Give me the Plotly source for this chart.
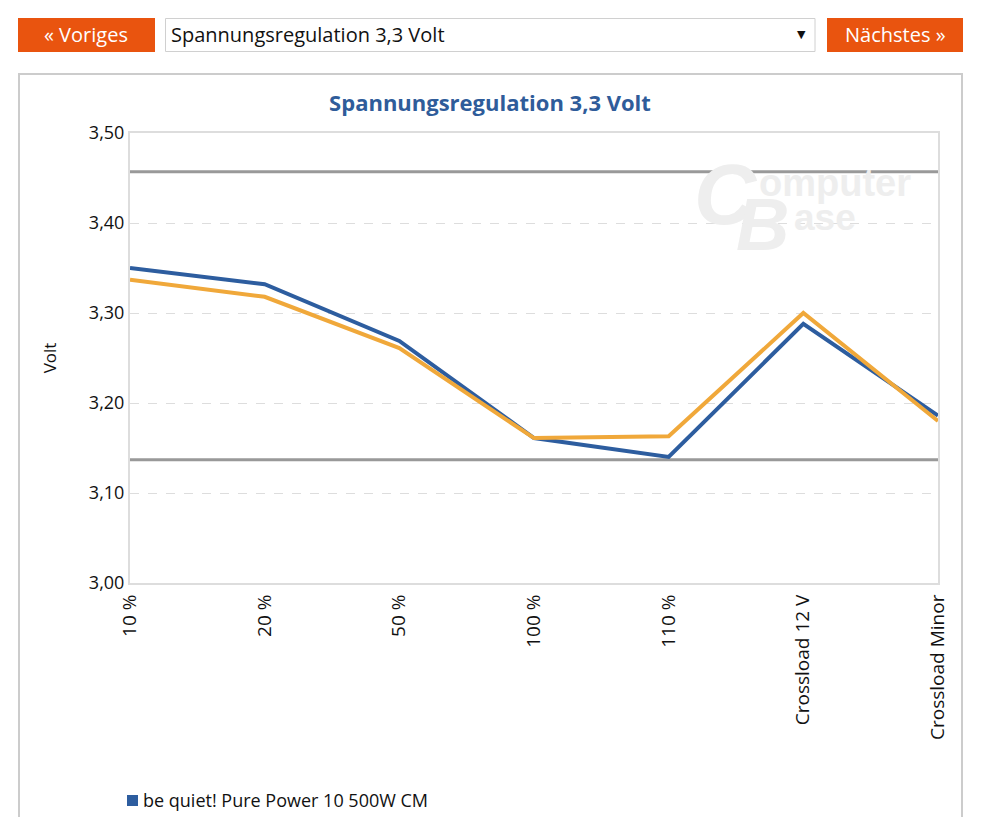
import plotly.graph_objects as go

categories = ["10 %", "20 %", "50 %", "100 %", "110 %", "Crossload 12 V", "Crossload Minor"]
series_blue_name = "be quiet! Pure Power 10 500W CM"
series_blue = [3.350, 3.332, 3.269, 3.161, 3.140, 3.288, 3.186]
series_orange_name = "Vergleichsnetzteil"
series_orange = [3.337, 3.318, 3.261, 3.161, 3.163, 3.300, 3.180]
limit_upper = 3.457
limit_lower = 3.137
y_ticks = [3.00, 3.10, 3.20, 3.30, 3.40, 3.50]

W, H = 991, 817
L, R, T, B = 130, 938, 133, 583

def px(x):
    return (x - L) / (R - L)

def py(y):
    return (B - y) / (B - T)

FONT = "Open Sans"
BLUE = "#2D5D9F"
ORANGE = "#F0A83A"
BTN = "#E9540F"

fig = go.Figure()

# limit lines
fig.add_trace(go.Scatter(x=categories, y=[limit_upper] * len(categories), mode="lines",
                         line=dict(color="#999999", width=3), showlegend=False, hoverinfo="skip"))
fig.add_trace(go.Scatter(x=categories, y=[limit_lower] * len(categories), mode="lines",
                         line=dict(color="#999999", width=3), showlegend=False, hoverinfo="skip"))

fig.add_trace(go.Scatter(x=categories, y=series_blue, mode="lines", name=series_blue_name,
                         line=dict(color=BLUE, width=4), showlegend=False))
fig.add_trace(go.Scatter(x=categories, y=series_orange, mode="lines", name=series_orange_name,
                         line=dict(color=ORANGE, width=4), showlegend=False))

shapes = []
annotations = []

# container box
shapes.append(dict(type="rect", xref="paper", yref="paper", x0=px(19), x1=px(962), y0=py(74), y1=py(840),
                   line=dict(color="#cccccc", width=2), fillcolor="rgba(0,0,0,0)", layer="below"))
# buttons
shapes.append(dict(type="rect", xref="paper", yref="paper", x0=px(18), x1=px(155), y0=py(18), y1=py(52),
                   line=dict(width=0), fillcolor=BTN))
shapes.append(dict(type="rect", xref="paper", yref="paper", x0=px(827), x1=px(963), y0=py(18), y1=py(52),
                   line=dict(width=0), fillcolor=BTN))
shapes.append(dict(type="rect", xref="paper", yref="paper", x0=px(165.5), x1=px(815), y0=py(18.5), y1=py(51.5),
                   line=dict(color="#d0d0d0", width=1), fillcolor="white"))
annotations.append(dict(xref="paper", yref="paper", x=px(86), y=py(35), text="« Voriges", showarrow=False,
                        font=dict(family=FONT, size=20, color="white"), xanchor="center", yanchor="middle"))
annotations.append(dict(xref="paper", yref="paper", x=px(895), y=py(35), text="Nächstes »", showarrow=False,
                        font=dict(family=FONT, size=20, color="white"), xanchor="center", yanchor="middle"))
annotations.append(dict(xref="paper", yref="paper", x=px(169), y=py(35), text="Spannungsregulation 3,3 Volt",
                        showarrow=False, font=dict(family=FONT, size=20, color="#111111"),
                        xanchor="left", yanchor="middle"))
annotations.append(dict(xref="paper", yref="paper", x=px(801), y=py(35), text="▼", showarrow=False,
                        font=dict(family="DejaVu Sans", size=11, color="#111111"), xanchor="center", yanchor="middle"))

# watermark
WM = "#eeeeee"
WF = "Liberation Sans"
annotations.append(dict(xref="paper", yref="paper", x=px(726), y=py(194), text="<b><i>C</i></b>", showarrow=False,
                        font=dict(family=WF, size=86, color=WM), xanchor="center", yanchor="middle"))
annotations.append(dict(xref="paper", yref="paper", x=px(757), y=py(183), text="<b>omputer</b>", showarrow=False,
                        font=dict(family=WF, size=38, color=WM), xanchor="left", yanchor="middle"))
annotations.append(dict(xref="paper", yref="paper", x=px(762), y=py(224), text="<b><i>B</i></b>", showarrow=False,
                        font=dict(family=WF, size=74, color=WM), xanchor="center", yanchor="middle"))
annotations.append(dict(xref="paper", yref="paper", x=px(792), y=py(217), text="<b>ase</b>", showarrow=False,
                        font=dict(family=WF, size=37, color=WM), xanchor="left", yanchor="middle"))

# legend (square marker + label)
shapes.append(dict(type="rect", xref="paper", yref="paper", x0=px(127), x1=px(138), y0=py(795), y1=py(806),
                   line=dict(width=0), fillcolor=BLUE))
annotations.append(dict(xref="paper", yref="paper", x=px(141), y=py(800), text=series_blue_name,
                        showarrow=False, font=dict(family=FONT, size=18, color="#111111"),
                        xanchor="left", yanchor="middle"))

fig.update_layout(
    width=W, height=H,
    margin=dict(l=L, r=W - R, t=T, b=H - B),
    paper_bgcolor="white", plot_bgcolor="white",
    separators=",.",
    title=dict(text="<b>Spannungsregulation 3,3 Volt</b>", x=490 / W, xanchor="center",
               y=1 - 103 / H, yanchor="middle", font=dict(family=FONT, size=22, color="#2F5C9A")),
    font=dict(family=FONT, size=16, color="#111111"),
    shapes=shapes, annotations=annotations,
    showlegend=False,
    hovermode=False,
)

fig.update_xaxes(type="category", categoryorder="array", categoryarray=categories,
                 range=[0, len(categories) - 1], tickangle=-90, showgrid=False,
                 showline=True, linecolor="#dddddd", linewidth=2, mirror=True,
                 ticks="outside", ticklen=2, tickcolor="rgba(0,0,0,0)",
                 tickfont=dict(family=FONT, size=19, color="#111111"), automargin=False)
fig.update_yaxes(range=[3.0, 3.5], tickvals=y_ticks, tickformat=".2f",
                 showgrid=True, gridcolor="#dddddd", griddash="dash", gridwidth=1,
                 showline=True, linecolor="#dddddd", linewidth=2, mirror=True, ticks="", zeroline=False,
                 tickfont=dict(family=FONT, size=18, color="#111111"),
                 title=dict(text="Volt", font=dict(family=FONT, size=17, color="#111111"), standoff=28),
                 automargin=False)

fig.write_html("out.html")
